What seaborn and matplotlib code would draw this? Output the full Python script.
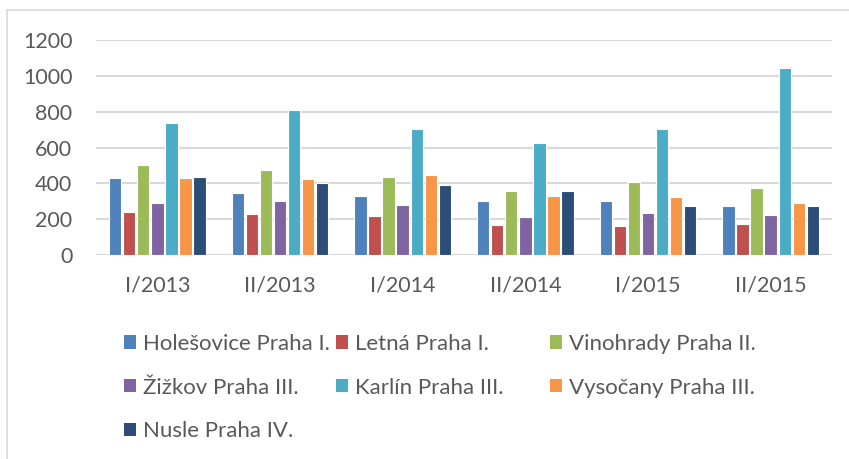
import numpy as np
import pandas as pd
import seaborn as sns
import matplotlib.pyplot as plt
from matplotlib.patches import Patch
from matplotlib.lines import Line2D

periods = ["I/2013", "II/2013", "I/2014", "II/2014", "I/2015", "II/2015"]
districts = [
    "Holešovice Praha I.",
    "Letná Praha I.",
    "Vinohrady Praha II.",
    "Žižkov Praha III.",
    "Karlín Praha III.",
    "Vysočany Praha III.",
    "Nusle Praha IV.",
]
holesovice = [431, 345, 332, 299, 303, 273]
letna = [238, 228, 215, 169, 162, 171]
vinohrady = [501, 474, 435, 358, 407, 373]
zizkov = [290, 303, 279, 214, 234, 221]
karlin = [737, 808, 704, 624, 702, 1042]
vysocany = [431, 425, 444, 331, 321, 292]
nusle = [435, 401, 392, 357, 275, 273]
colors = ["#4F81BD", "#C0504D", "#9BBB59", "#8064A2", "#4BACC6", "#F79646", "#2C4D75"]

series = [holesovice, letna, vinohrady, zizkov, karlin, vysocany, nusle]
rows = []
for name, vals in zip(districts, series):
    for p, v in zip(periods, vals):
        rows.append({"period": p, "district": name, "value": v})
df = pd.DataFrame(rows)

sns.set_style("white")
plt.rcParams["font.family"] = ["Lato", "DejaVu Sans"]
txt = "#595959"

fig = plt.figure(figsize=(8.49, 4.59), dpi=100)
ax = fig.add_axes([96 / 849, 1 - 255 / 459, (832 - 96) / 849, (255 - 40) / 459])
sns.barplot(data=df, x="period", y="value", hue="district", palette=colors,
            saturation=1, width=0.8, gap=0.12, edgecolor="white", linewidth=0.8,
            legend=False, ax=ax)
ax.set_ylim(0, 1200)
ax.set_xlim(-0.5, 5.5)
ax.set_yticks(range(0, 1201, 200))
ax.yaxis.grid(True, color="#D9D9D9", linewidth=1.5)
ax.set_axisbelow(True)
for s in ax.spines.values():
    s.set_visible(False)
ax.set_xlabel("")
ax.set_ylabel("")
ax.tick_params(axis="both", length=0, labelsize=15.5, labelcolor=txt)
ax.tick_params(axis="y", pad=17)
ax.tick_params(axis="x", pad=15)

# legend, three columns laid out like the original
order = [[0, 3, 6], [1, 4], [2, 5]]
col_x = [124 / 849, 336 / 849, 550 / 849]
for cx, idx in zip(col_x, order):
    handles = [Patch(facecolor=colors[i], edgecolor="none") for i in idx]
    labels = [districts[i] for i in idx]
    leg = fig.legend(handles, labels, loc="upper left",
                     bbox_to_anchor=(cx, 1 - 334 / 459), frameon=False,
                     fontsize=16, handlelength=0.55, handleheight=0.55,
                     handletextpad=0.3, labelspacing=1.06, borderpad=0,
                     borderaxespad=0)
    for t in leg.get_texts():
        t.set_color(txt)

# outer chart border (top and left visible)
fig.add_artist(Line2D([7 / 849, 7 / 849], [0, 1 - 10 / 459], color="#D9D9D9", lw=1.2))
fig.add_artist(Line2D([7 / 849, 1], [1 - 10 / 459, 1 - 10 / 459], color="#D9D9D9", lw=1.2))

fig.savefig("out.png", dpi=100)
